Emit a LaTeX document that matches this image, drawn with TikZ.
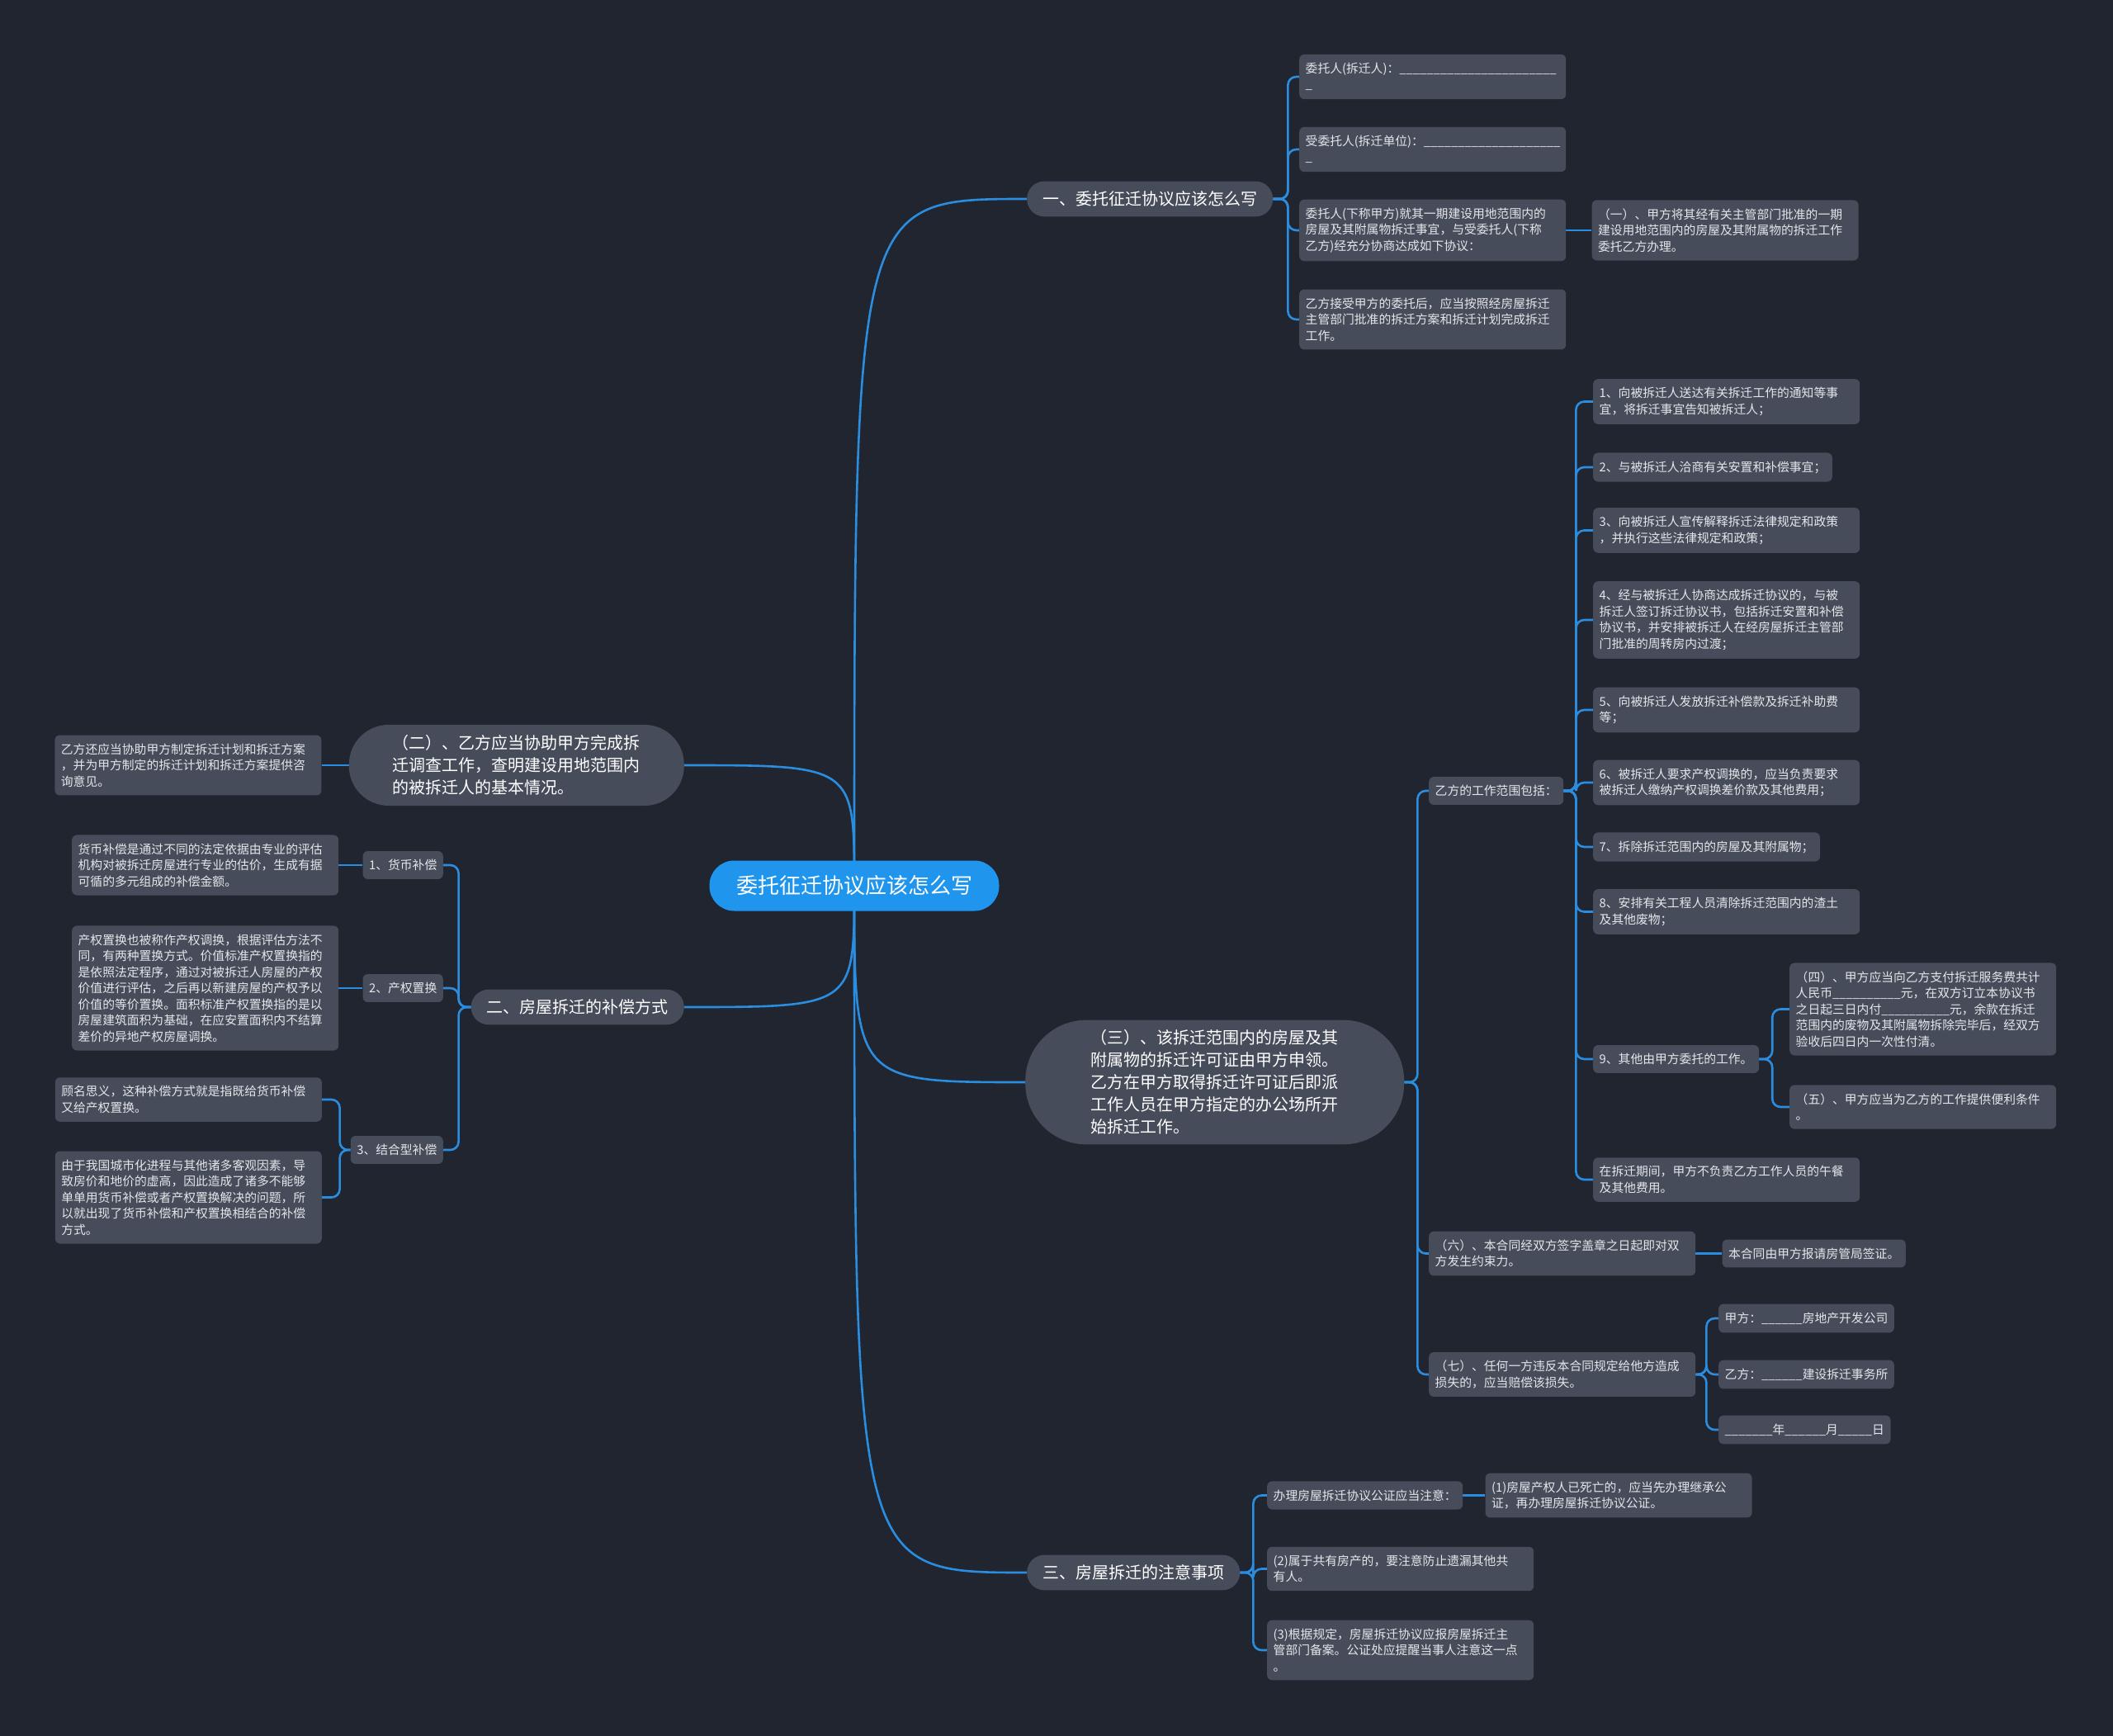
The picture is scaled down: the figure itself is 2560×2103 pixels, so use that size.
\documentclass[tikz,border=0pt]{standalone}
\usepackage{fontspec}
\setmainfont{Noto Sans CJK SC}
\usepackage{tikz}
\usetikzlibrary{shapes,positioning}

\definecolor{bgdark}{HTML}{21252F}
\definecolor{cardgray}{HTML}{474C5A}
\definecolor{linkblue}{HTML}{2A8DE0}
\definecolor{rootblue}{HTML}{1F95EE}
\definecolor{cardtext}{HTML}{E4E6EA}

\pgfdeclarelayer{bg}
\pgfsetlayers{bg,main}

\newcommand\blanks[1]{\foreach\k in {1,...,#1}{\_}}

\begin{document}
\begin{tikzpicture}[x=1pt, y=-1pt,
    leaf/.style={fill=cardgray, rounded corners=6pt, text=cardtext, align=left,
      inner xsep=7.5pt, inner ysep=10.1pt, font=\fontsize{14.8}{19.5}\selectfont},
    wide/.style={text width=308pt},
    topic/.style={fill=cardgray, rounded corners=21pt, text=white, align=left,
      inner xsep=19pt, inner ysep=12pt, font=\fontsize{20}{27}\selectfont},
    rootbox/.style={fill=rootblue, rounded corners=30pt, text=white,
      minimum width=351pt, minimum height=61pt, font=\fontsize{26}{30}\selectfont},
    link/.style={draw=linkblue, line width=2.6pt, rounded corners=10pt}]

  % centre
  \node[rootbox] (root) at (1035,1073) {委托征迁协议应该怎么写};

  % main topics
  \node[topic, anchor=west] (l1a) at (1244,241) {一、委托征迁协议应该怎么写};
  \node[topic, rounded corners=48pt, minimum width=406pt, minimum height=98pt, anchor=east] (l1b) at (829,927)
    {（二）、乙方应当协助甲方完成拆\\迁调查工作，查明建设用地范围内\\的被拆迁人的基本情况。};
  \node[topic, anchor=east] (l1c) at (829,1220) {二、房屋拆迁的补偿方式};
  \node[topic, rounded corners=74pt, minimum width=459pt, minimum height=150pt, anchor=west] (l1d) at (1242,1311)
    {（三）、该拆迁范围内的房屋及其\\附属物的拆迁许可证由甲方申领。\\乙方在甲方取得拆迁许可证后即派\\工作人员在甲方指定的办公场所开\\始拆迁工作。};
  \node[topic, anchor=west] (l1e) at (1244,1905) {三、房屋拆迁的注意事项};

  % 一
  \node[leaf, wide, anchor=west] (a1) at (1574,93) {委托人(拆迁人)：\blanks{23}\\\_};
  \node[leaf, wide, anchor=west] (a2) at (1574,181) {受委托人(拆迁单位)：\blanks{20}\\\_};
  \node[leaf, wide, anchor=west] (a3) at (1574,279)
    {委托人(下称甲方)就其一期建设用地范围内的\\房屋及其附属物拆迁事宜，与受委托人(下称\\乙方)经充分协商达成如下协议：};
  \node[leaf, wide, anchor=west] (a4) at (1574,387)
    {乙方接受甲方的委托后，应当按照经房屋拆迁\\主管部门批准的拆迁方案和拆迁计划完成拆迁\\工作。};
  \node[leaf, wide, right=31pt of a3] (a3a)
    {（一）、甲方将其经有关主管部门批准的一期\\建设用地范围内的房屋及其附属物的拆迁工作\\委托乙方办理。};

  % (三)
  \node[leaf, anchor=west] (w0) at (1731,958) {乙方的工作范围包括：};
  \node[leaf, wide, anchor=west] (w1) at (1930,486.5) {1、向被拆迁人送达有关拆迁工作的通知等事\\宜，将拆迁事宜告知被拆迁人；};
  \node[leaf, anchor=west] (w2) at (1930,566) {2、与被拆迁人洽商有关安置和补偿事宜；};
  \node[leaf, wide, anchor=west] (w3) at (1930,642.5) {3、向被拆迁人宣传解释拆迁法律规定和政策\\，并执行这些法律规定和政策；};
  \node[leaf, wide, anchor=west] (w4) at (1930,751)
    {4、经与被拆迁人协商达成拆迁协议的，与被\\拆迁人签订拆迁协议书，包括拆迁安置和补偿\\协议书，并安排被拆迁人在经房屋拆迁主管部\\门批准的周转房内过渡；};
  \node[leaf, wide, anchor=west] (w5) at (1930,860) {5、向被拆迁人发放拆迁补偿款及拆迁补助费\\等；};
  \node[leaf, wide, anchor=west] (w6) at (1930,948) {6、被拆迁人要求产权调换的，应当负责要求\\被拆迁人缴纳产权调换差价款及其他费用；};
  \node[leaf, anchor=west] (w7) at (1930,1026) {7、拆除拆迁范围内的房屋及其附属物；};
  \node[leaf, wide, anchor=west] (w8) at (1930,1104.5) {8、安排有关工程人员清除拆迁范围内的渣土\\及其他废物；};
  \node[leaf, anchor=west] (w9) at (1930,1283) {9、其他由甲方委托的工作。};
  \node[leaf, wide, anchor=west] (w10) at (1930,1429) {在拆迁期间，甲方不负责乙方工作人员的午餐\\及其他费用。};
  \node[leaf, wide, anchor=west] (w9a) at (2168,1222.5)
    {（四）、甲方应当向乙方支付拆迁服务费共计\\人民币\blanks{10}元，在双方订立本协议书\\之日起三日内付\blanks{10}元，余款在拆迁\\范围内的废物及其附属物拆除完毕后，经双方\\验收后四日内一次性付清。};
  \node[leaf, wide, anchor=west] (w9b) at (2168,1341) {（五）、甲方应当为乙方的工作提供便利条件\\。};

  \node[leaf, wide, anchor=west] (l6) at (1731,1518.5) {（六）、本合同经双方签字盖章之日起即对双\\方发生约束力。};
  \node[leaf, right=32pt of l6] (l6a) {本合同由甲方报请房管局签证。};
  \node[leaf, wide, anchor=west] (l7) at (1731,1665) {（七）、任何一方违反本合同规定给他方造成\\损失的，应当赔偿该损失。};
  \node[leaf, anchor=west] (q1) at (2082,1597) {甲方：\blanks{6}房地产开发公司};
  \node[leaf, anchor=west] (q2) at (2082,1665) {乙方：\blanks{6}建设拆迁事务所};
  \node[leaf, anchor=west] (q3) at (2082,1732) {\blanks{7}年\blanks{6}月\blanks{5}日};

  % 三
  \node[leaf, anchor=west] (n1) at (1535,1811.5) {办理房屋拆迁协议公证应当注意：};
  \node[leaf, wide, right=27pt of n1] (n1a) {(1)房屋产权人已死亡的，应当先办理继承公\\证，再办理房屋拆迁协议公证。};
  \node[leaf, wide, anchor=west] (n2) at (1535,1900.5) {(2)属于共有房产的，要注意防止遗漏其他共\\有人。};
  \node[leaf, wide, anchor=west] (n3) at (1535,1999) {(3)根据规定，房屋拆迁协议应报房屋拆迁主\\管部门备案。公证处应提醒当事人注意这一点\\。};

  % left side
  \node[leaf, wide, left=33pt of l1b] (b1) {乙方还应当协助甲方制定拆迁计划和拆迁方案\\，并为甲方制定的拆迁计划和拆迁方案提供咨\\询意见。};
  \node[leaf, anchor=east] (c1) at (537,1048) {1、货币补偿};
  \node[leaf, anchor=east] (c2) at (537,1197) {2、产权置换};
  \node[leaf, anchor=east] (c3) at (537,1393) {3、结合型补偿};
  \node[leaf, wide, left=29pt of c1] (c1a) {货币补偿是通过不同的法定依据由专业的评估\\机构对被拆迁房屋进行专业的估价，生成有据\\可循的多元组成的补偿金额。};
  \node[leaf, wide, left=29pt of c2] (c2a)
    {产权置换也被称作产权调换，根据评估方法不\\同，有两种置换方式。价值标准产权置换指的\\是依照法定程序，通过对被拆迁人房屋的产权\\价值进行评估，之后再以新建房屋的产权予以\\价值的等价置换。面积标准产权置换指的是以\\房屋建筑面积为基础，在应安置面积内不结算\\差价的异地产权房屋调换。};
  \node[leaf, wide, anchor=east] (c3a) at (390,1332) {顾名思义，这种补偿方式就是指既给货币补偿\\又给产权置换。};
  \node[leaf, wide, anchor=east] (c3b) at (390,1450.5)
    {由于我国城市化进程与其他诸多客观因素，导\\致房价和地价的虚高，因此造成了诸多不能够\\单单用货币补偿或者产权置换解决的问题，所\\以就出现了货币补偿和产权置换相结合的补偿\\方式。};

  \begin{pgfonlayer}{bg}
    \fill[bgdark] (0,0) rectangle (2560,2103);
    % from the centre
    \draw[link] (root.center) .. controls (root.center |- l1a.west) .. (l1a.west);
    \draw[link] (root.center) .. controls (root.center |- l1b.east) .. (l1b.east);
    \draw[link] (root.center) .. controls (root.center |- l1c.east) .. (l1c.east);
    \draw[link] (root.center) .. controls (root.center |- l1d.west) .. (l1d.west);
    \draw[link] (root.center) .. controls (root.center |- l1e.west) .. (l1e.west);
    % branches
    \foreach \c in {a1,a2,a3,a4}
      \draw[link] (l1a.east) -- ++(18,0) |- (\c.west);
    \foreach \c in {w0,l6,l7}
      \draw[link] (l1d.east) -- ++(16,0) |- (\c.west);
    \foreach \c in {w1,w2,w3,w4,w5,w6,w7,w8,w9,w10}
      \draw[link] (w0.east) -- ++(15,0) |- (\c.west);
    \foreach \c in {w9a,w9b}
      \draw[link] (w9.east) -- ++(16,0) |- (\c.west);
    \foreach \c in {q1,q2,q3}
      \draw[link] (l7.east) -- ++(13,0) |- (\c.west);
    \foreach \c in {n1,n2,n3}
      \draw[link] (l1e.east) -- ++(16,0) |- (\c.west);
    \foreach \c in {c1,c2,c3}
      \draw[link] (l1c.west) -- ++(-15,0) |- (\c.east);
    \foreach \c in {c3a,c3b}
      \draw[link] (c3.west) -- ++(-13,0) |- (\c.east);
    \draw[link] (a3.east) -- (a3a.west);
    \draw[link] (l6.east) -- (l6a.west);
    \draw[link] (n1.east) -- (n1a.west);
    \draw[link] (l1b.west) -- (b1.east);
    \draw[link] (c1.west) -- (c1a.east);
    \draw[link] (c2.west) -- (c2a.east);
  \end{pgfonlayer}
\end{tikzpicture}
\end{document}
